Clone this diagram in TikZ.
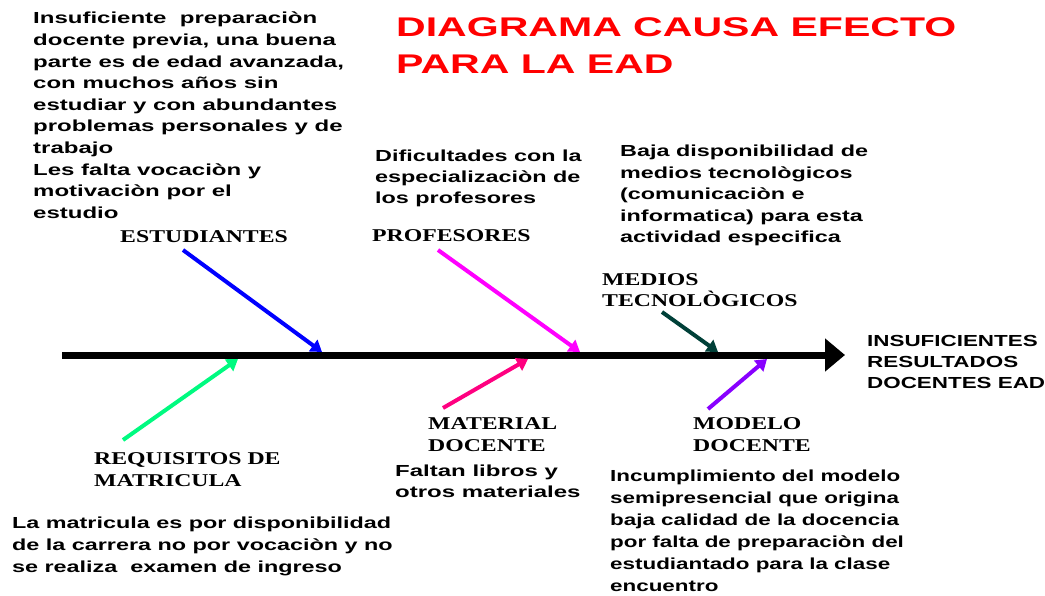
\documentclass[tikz,border=0pt]{standalone}
\usepackage{fontspec}
\usetikzlibrary{arrows.meta}
\newfontfamily\bodyf{Liberation Sans}[FakeStretch=1.4]
\newfontfamily\bodyw{Liberation Sans}[FakeStretch=1.46]
\newfontfamily\bodyx{Liberation Sans}[FakeStretch=1.5]
\newfontfamily\titlef{Liberation Sans}[FakeStretch=1.52]
\newfontfamily\labf{Liberation Serif}[FakeStretch=1.32]
\definecolor{cblue}{RGB}{0,0,255}
\definecolor{cmag}{RGB}{255,0,255}
\definecolor{cteal}{RGB}{0,64,56}
\definecolor{cgreen}{RGB}{0,250,128}
\definecolor{cpink}{RGB}{255,0,128}
\definecolor{cviolet}{RGB}{136,0,255}
\definecolor{cred}{RGB}{255,0,0}
\begin{document}
\begin{tikzpicture}[x=1pt,y=-1pt,
  body/.style={anchor=base west,inner sep=0pt,align=left,font=\bodyf\bfseries\fontsize{16}{21.6}\selectfont},
  lab/.style={anchor=base west,inner sep=0pt,align=left,font=\labf\bfseries\fontsize{18}{22}\selectfont},
  ttl/.style={anchor=base west,inner sep=0pt,align=left,text=cred,font=\titlef\bfseries\fontsize{27}{37}\selectfont},
  cause/.style={line width=4pt,-{Triangle[length=11pt,width=14pt]}},
  spine/.style={line width=7pt,-{Triangle[length=20pt,width=32pt]}}
]
\useasboundingbox (0,0) rectangle (1045,596);
% title (anchors at the baseline of the last line)
\node[ttl] (title) at (396,74) {DIAGRAMA CAUSA EFECTO\\PARA LA EAD};
% spine
\coordinate (s0) at (62,355);
\coordinate (s1) at (845,355);
\draw[spine] (s0) -- (s1);
\node[body,font=\bodyf\bfseries\fontsize{16}{21}\selectfont] (effect) at (867,388) {INSUFICIENTES\\RESULTADOS\\DOCENTES EAD};
% points on spine
\coordinate (pE) at (322,352);
\coordinate (pP) at (580,352);
\coordinate (pM) at (718,352);
\coordinate (pR) at (238,359);
\coordinate (pMa) at (528,359);
\coordinate (pMo) at (767,359);
% cause labels
\node[lab] (estud) at (120,243) {ESTUDIANTES};
\node[lab] (prof) at (372,242) {PROFESORES};
\node[lab,font=\labf\bfseries\fontsize{18}{21}\selectfont] (medios) at (602,307) {MEDIOS\\TECNOLÒGICOS};
\node[lab] (req) at (94,486) {REQUISITOS DE\\MATRICULA};
\node[lab] (mat) at (428,451) {MATERIAL\\DOCENTE};
\node[lab] (mod) at (693,451) {MODELO\\DOCENTE};
% arrow start coordinates
\coordinate (aE) at (183,250);
\coordinate (aP) at (438,250);
\coordinate (aM) at (662,312);
\coordinate (aR) at (123,440);
\coordinate (aMa) at (443,408);
\coordinate (aMo) at (708,409);
\draw[cause,cblue] (aE) -- (pE);
\draw[cause,cmag] (aP) -- (pP);
\draw[cause,cteal] (aM) -- (pM);
\draw[cause,cgreen] (aR) -- (pR);
\draw[cause,cpink] (aMa) -- (pMa);
\draw[cause,cviolet] (aMo) -- (pMo);
% descriptions
\node[body,font=\bodyx\bfseries\fontsize{16}{21.6}\selectfont] (dEst) at (33,218.4) {Insuficiente\ \ preparaciòn\\docente previa, una buena\\parte es de edad avanzada,\\con muchos años sin\\estudiar y con abundantes\\problemas personales y de\\trabajo\\Les falta vocaciòn y\\motivaciòn por el\\estudio};
\node[body,font=\bodyw\bfseries\fontsize{16}{21}\selectfont] (dProf) at (375,204) {Dificultades con la\\especializaciòn de\\los profesores};
\node[body,font=\bodyw\bfseries\fontsize{16}{21.5}\selectfont] (dMed) at (620,243) {Baja disponibilidad de\\medios tecnològicos\\(comunicaciòn e\\informatica) para esta\\actividad especifica};
\node[body,font=\bodyw\bfseries\fontsize{16}{22}\selectfont] (dReq) at (12,572) {La matricula es por disponibilidad\\de la carrera no por vocaciòn y no\\se realiza\ \ examen de ingreso};
\node[body,font=\bodyx\bfseries\fontsize{16}{21}\selectfont] (dMat) at (395,497) {Faltan libros y\\otros materiales};
\node[body,font=\bodyf\bfseries\fontsize{16}{22}\selectfont] (dMod) at (610,591) {Incumplimiento del modelo\\semipresencial que origina\\baja calidad de la docencia\\por falta de preparaciòn del\\estudiantado para la clase\\encuentro};
\end{tikzpicture}
\end{document}
